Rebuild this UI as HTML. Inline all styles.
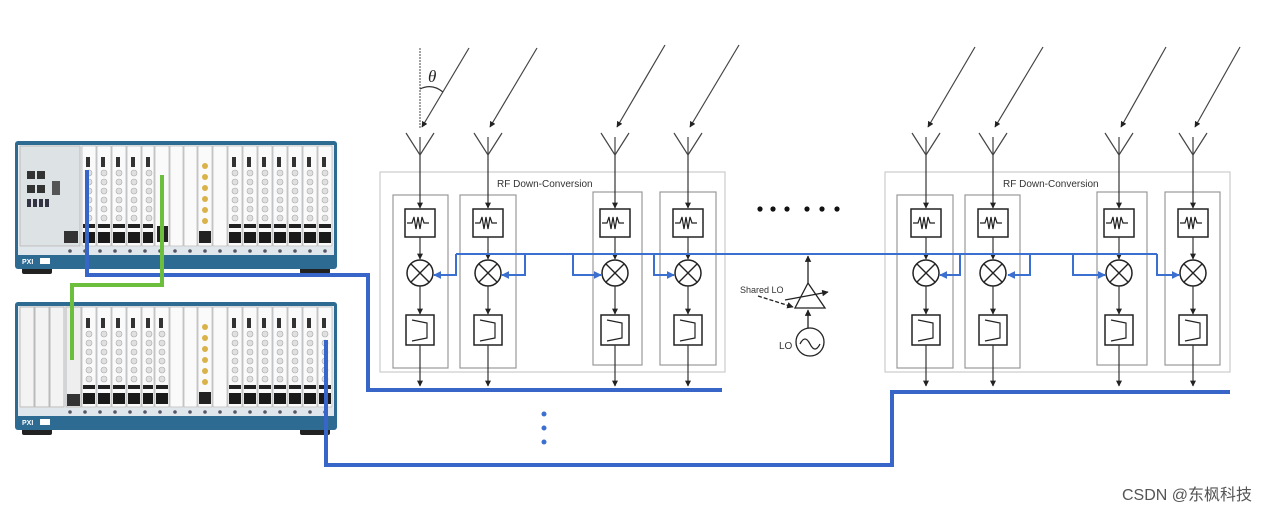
<!DOCTYPE html>
<html><head><meta charset="utf-8"><style>
html,body{margin:0;padding:0;background:#fff;}
svg{display:block;font-family:"Liberation Sans",sans-serif;}
</style></head><body>
<svg id="s" width="1275" height="512" viewBox="0 0 1275 512" xmlns="http://www.w3.org/2000/svg">
<defs>
<marker id="ah" viewBox="0 0 10 10" refX="9" refY="5" markerWidth="5" markerHeight="5" orient="auto"><path d="M0,0L10,5L0,10z" fill="#222"/></marker>
<marker id="bh" viewBox="0 0 10 10" refX="9" refY="5" markerWidth="4" markerHeight="4" orient="auto"><path d="M0,0L10,5L0,10z" fill="#3b6fd0"/></marker>
</defs>
<g id="chassis"></g>
<g id="diag" stroke="#333" fill="none" stroke-width="1.2"></g>
<line x1="420" y1="48" x2="420" y2="128" stroke="#666" stroke-width="1.2" stroke-dasharray="2,1"/>
<path d="M420,89 Q432,83 443,92" stroke="#333" fill="none" stroke-width="1.2"/>
<text x="428" y="82" font-size="17" font-style="italic" font-family="Liberation Serif,serif" fill="#222">θ</text>
<text x="497" y="187" font-size="10" fill="#333">RF Down-Conversion</text>
<text x="1003" y="187" font-size="10" fill="#333">RF Down-Conversion</text>
<g fill="#111"><circle cx="760" cy="209" r="2.6"/><circle cx="773" cy="209" r="2.6"/><circle cx="787" cy="209" r="2.6"/><circle cx="807" cy="209" r="2.6"/><circle cx="822" cy="209" r="2.6"/><circle cx="837" cy="209" r="2.6"/></g>
<g fill="#3b6fd0"><circle cx="544" cy="414" r="2.5"/><circle cx="544" cy="428" r="2.5"/><circle cx="544" cy="442" r="2.5"/></g>
<g stroke="#222" fill="none" stroke-width="1.3">
<path d="M808,283 L795,308 L825,308 Z" fill="#fff"/>
<line x1="808" y1="283" x2="808" y2="256" marker-end="url(#ah)"/>
<line x1="808" y1="328" x2="808" y2="310" marker-end="url(#ah)"/>
<circle cx="810" cy="342" r="14"/>
<path d="M800,344 q5,-10 10,0 t10,0"/>
<line x1="785" y1="300" x2="828" y2="292" marker-end="url(#ah)"/>
<line x1="758" y1="296" x2="793" y2="307" stroke-dasharray="4,2" marker-end="url(#ah)"/>
</g>
<text x="740" y="293" font-size="9" fill="#333">Shared LO</text>
<text x="779" y="349" font-size="10" fill="#333">LO</text>
<g stroke="#3866c8" stroke-width="4" fill="none">
<polyline points="87,170 87,275 368,275 368,390 722,390"/>
<polyline points="326,340 326,465 892,465 892,392 1230,392"/>
</g>
<polyline points="162,175 162,285 72,285 72,360" stroke="#6cbf3c" stroke-width="4" fill="none"/>
<g id="bus" stroke="#3b6fd0" stroke-width="2" fill="none"></g>
<text x="1122" y="500" font-size="16" fill="#555" font-family="Liberation Sans,'Noto Sans CJK SC',sans-serif">CSDN @东枫科技</text>
</svg>
<script>
var NS="http://www.w3.org/2000/svg";
function el(p,t,a){var e=document.createElementNS(NS,t);for(var k in a)e.setAttribute(k,a[k]);p.appendChild(e);return e;}
var d=document.getElementById('diag');
el(d,'rect',{x:380,y:172,width:345,height:200,stroke:'#ccc'});
el(d,'rect',{x:885,y:172,width:345,height:200,stroke:'#ccc'});
var cols=[[420,393,448,195,368],[488,460,516,195,368],[615,593,642,192,365],[688,660,716,192,365],
[926,897,953,195,368],[993,965,1020,195,368],[1119,1097,1147,192,365],[1193,1165,1220,192,365]];
var arr=[[469,48],[537,48],[665,45],[739,45],[975,47],[1043,47],[1166,47],[1240,47]];
cols.forEach(function(c,i){
 var x=c[0];
 el(d,'rect',{x:c[1],y:c[3],width:c[2]-c[1],height:c[4]-c[3],stroke:'#999'});
 el(d,'line',{x1:arr[i][0],y1:arr[i][1],x2:x+2,y2:127,stroke:'#444','marker-end':'url(#ah)'});
 el(d,'path',{d:'M'+(x-14)+',133 L'+x+',155 L'+(x+14)+',133 M'+x+',137 L'+x+',155',stroke:'#444'});
 el(d,'line',{x1:x,y1:155,x2:x,y2:208,stroke:'#333','marker-end':'url(#ah)'});
 el(d,'rect',{x:x-15,y:209,width:30,height:28,stroke:'#222','stroke-width':1.5});
 el(d,'path',{d:'M'+(x-13)+',223 h5 l2,-6 l2,12 l2,-12 l2,12 l2,-12 l2,6 h5',stroke:'#222'});
 el(d,'line',{x1:x,y1:237,x2:x,y2:259,stroke:'#333','marker-end':'url(#ah)'});
 el(d,'circle',{cx:x,cy:273,r:13,stroke:'#222','stroke-width':1.5});
 el(d,'path',{d:'M'+(x-9)+',264 L'+(x+9)+',282 M'+(x+9)+',264 L'+(x-9)+',282',stroke:'#222','stroke-width':1.4});
 el(d,'line',{x1:x,y1:286,x2:x,y2:314,stroke:'#333','marker-end':'url(#ah)'});
 el(d,'rect',{x:x-14,y:315,width:28,height:30,stroke:'#222','stroke-width':1.5});
 el(d,'path',{d:'M'+(x-8)+',320 L'+(x+7)+',323 L'+(x+7)+',338 L'+(x-8)+',341',stroke:'#222'});
 el(d,'line',{x1:x,y1:345,x2:x,y2:386,stroke:'#333','marker-end':'url(#ah)'});
});
var b=document.getElementById('bus');
el(b,'line',{x1:456,y1:254,x2:1157,y2:254});
var taps=[[456,434],[525,502],[573,601],[654,674],[960,940],[1030,1008],[1073,1105],[1157,1179]];
taps.forEach(function(t){el(b,'polyline',{points:t[0]+',254 '+t[0]+',275 '+t[1]+',275','marker-end':'url(#bh)'});});
var ch=document.getElementById('chassis');
function chassis(y0,top){
 el(ch,'rect',{x:22,y:y0+124,width:30,height:9,fill:'#222',rx:2});
 el(ch,'rect',{x:300,y:y0+124,width:30,height:9,fill:'#222',rx:2});
 el(ch,'rect',{x:15,y:y0,width:322,height:128,fill:'#2d6b93',rx:3});
 el(ch,'rect',{x:18,y:y0+4,width:316,height:102,fill:'#e9edf0'});
 el(ch,'rect',{x:18,y:y0+106,width:316,height:8,fill:'#dfe7ec'});
 for(var k=0;k<18;k++)el(ch,'circle',{cx:70+k*15,cy:y0+110,r:1.8,fill:'#556'});
 el(ch,'text',{x:22,y:y0+123,'font-size':7,fill:'#fff','font-weight':'bold'}).textContent='PXI';
 el(ch,'rect',{x:40,y:y0+117,width:10,height:6,fill:'#fff'});
 if(top){
  el(ch,'rect',{x:20,y:y0+5,width:60,height:100,fill:'#dde2e5',stroke:'#bbb'});
  [[27,50],[37,50],[27,64],[37,64]].forEach(function(p){el(ch,'rect',{x:p[0],y:y0+p[1]-20,width:8,height:8,fill:'#333'});});
  for(var k=0;k<4;k++)el(ch,'rect',{x:27+k*6,y:y0+58,width:4,height:8,fill:'#334'});
  el(ch,'rect',{x:52,y:y0+40,width:8,height:14,fill:'#555'});
  el(ch,'rect',{x:64,y:y0+90,width:14,height:12,fill:'#333'});
 } else {
  for(var k=0;k<3;k++)el(ch,'rect',{x:20+k*15,y:y0+5,width:14,height:100,fill:'#f3f3f3',stroke:'#bbb'});
  el(ch,'rect',{x:66,y:y0+5,width:15,height:100,fill:'#eee',stroke:'#bbb'});
  el(ch,'rect',{x:67,y:y0+92,width:13,height:12,fill:'#333'});
 }
 var xs=[82,97,112,127,142,155,170,184,198,213,228,243,258,273,288,303,318];
 xs.forEach(function(x,i){
  var w=(i<xs.length-1?xs[i+1]-x:15);
  var blank=(i==6||i==7||i==9);
  el(ch,'rect',{x:x,y:y0+5,width:w-1,height:100,fill:'#fafafa',stroke:'#aaa','stroke-width':0.6});
  if(blank)return;
  if(i==8){for(var k=0;k<6;k++)el(ch,'circle',{cx:x+7,cy:y0+25+k*11,r:3,fill:'#d9b34a'});
   el(ch,'rect',{x:x+1,y:y0+90,width:w-3,height:12,fill:'#222'});return;}
  if(i==5&&top){el(ch,'rect',{x:x+2,y:y0+85,width:w-4,height:16,fill:'#222'});return;}
  el(ch,'rect',{x:x+4,y:y0+16,width:4,height:10,fill:'#333'});
  for(var k=0;k<6;k++)el(ch,'circle',{cx:x+7,cy:y0+32+k*9,r:3,fill:'#e0e0e0',stroke:'#aaa','stroke-width':0.6});
  el(ch,'rect',{x:x+1,y:y0+83,width:w-3,height:4,fill:'#222'});
  el(ch,'rect',{x:x+1,y:y0+91,width:w-3,height:11,fill:'#1a1a1a'});
 });
}
chassis(141,true);
chassis(302,false);
</script>
</body></html>
